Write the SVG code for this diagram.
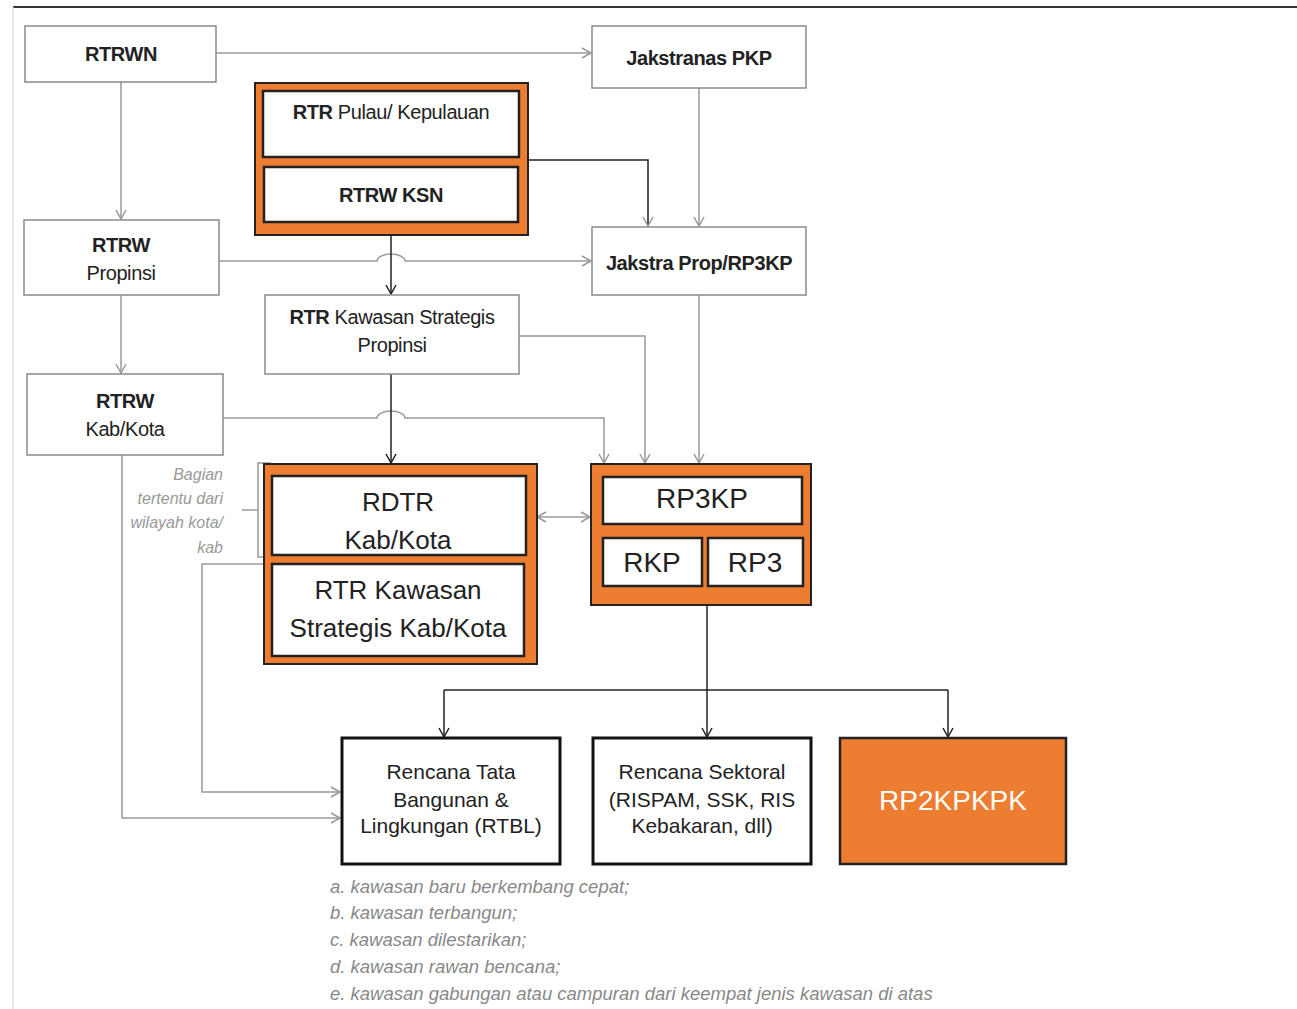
<svg xmlns="http://www.w3.org/2000/svg" width="1297" height="1009" viewBox="0 0 1297 1009">
<style>
text{font-family:"Liberation Sans",Arial,sans-serif;text-anchor:middle;fill:#222}
.box{fill:#fff;stroke:#8a8a8a;stroke-width:1.5}
.obox{fill:#ED7D31;stroke:#222;stroke-width:2}
.ibox{fill:#fff;stroke:#222;stroke-width:2.5}
.bbox{fill:#fff;stroke:#111;stroke-width:3}
.g{stroke:#999;fill:none;stroke-width:1.5}
.k{stroke:#222;fill:none;stroke-width:1.5}
.t1{font-size:20px;letter-spacing:-0.4px}
.b{font-weight:bold}
.t2{font-size:26px}
.t3{font-size:28px}
.t4{font-size:21px}
.it{font-style:italic;fill:#888}
.note{font-size:18.5px;text-anchor:start}
.side{font-size:16px;text-anchor:end;fill:#999}
</style>
<defs>
<marker id="ag" markerUnits="userSpaceOnUse" markerWidth="12" markerHeight="12" refX="10" refY="6" orient="auto-start-reverse"><path d="M1,1 L10,6 L1,11" fill="none" stroke="#999" stroke-width="1.5"/></marker>
<marker id="ak" markerUnits="userSpaceOnUse" markerWidth="12" markerHeight="12" refX="10" refY="6" orient="auto-start-reverse"><path d="M1,1 L10,6 L1,11" fill="none" stroke="#222" stroke-width="1.5"/></marker>
</defs>
<rect width="1297" height="1009" fill="#fff"/>
<line x1="13" y1="7" x2="1297" y2="7" stroke="#333" stroke-width="2"/>
<line x1="13" y1="7" x2="13" y2="1009" stroke="#ddd" stroke-width="1.5"/>

<g id="connectors">
<path class="g" d="M216,53 H591" marker-end="url(#ag)"/>
<path class="g" d="M121,82 V219" marker-end="url(#ag)"/>
<path class="k" d="M528,160 H648 V226" marker-end="url(#ag)"/>
<path class="g" d="M699,88 V226" marker-end="url(#ag)"/>
<path class="g" d="M219,261 H377 A14,7 0 0 1 405,261 H591" marker-end="url(#ag)"/>
<path class="k" d="M391,235 V294" marker-end="url(#ak)"/>
<path class="g" d="M121,295 V373" marker-end="url(#ag)"/>
<path class="g" d="M519,336 H645 V463" marker-end="url(#ag)"/>
<path class="g" d="M699,295 V463" marker-end="url(#ag)"/>
<path class="g" d="M223,418 H377 A14,7 0 0 1 405,418 H604 V463" marker-end="url(#ag)"/>
<path class="k" d="M391,374 V463" marker-end="url(#ak)"/>
<path class="g" d="M537,517 H590" marker-start="url(#ag)" marker-end="url(#ag)"/>
<path class="k" d="M707,605 V737"  marker-end="url(#ak)"/>
<path class="k" d="M444,690 H948"/>
<path class="k" d="M444,690 V737" marker-end="url(#ak)"/>
<path class="k" d="M948,690 V737" marker-end="url(#ak)"/>
<path class="g" d="M122,455 V818 H340" marker-end="url(#ag)"/>
<path class="g" d="M263,564 H202 V792 H340" marker-end="url(#ag)"/>
<path class="g" d="M271,463 H258 V557 H271 M258,510 H242"/>
</g>

<g id="rtrwn"><rect class="box" x="25" y="26" width="191" height="56"/><text class="t1 b" x="121" y="61">RTRWN</text></g>
<g id="jakstranas"><rect class="box" x="592" y="26" width="214" height="62"/><text class="t1 b" x="699" y="65">Jakstranas PKP</text></g>
<g id="rtr-pulau-group">
<rect class="obox" x="255" y="83" width="273" height="152"/>
<g id="rtr-pulau"><rect class="ibox" x="263" y="91" width="256" height="66"/><text class="t1" x="391" y="119"><tspan class="b">RTR</tspan> Pulau/ Kepulauan</text></g>
<g id="rtrw-ksn"><rect class="ibox" x="264" y="167" width="254" height="55"/><text class="t1 b" x="391" y="202">RTRW KSN</text></g>
</g>
<g id="rtrw-propinsi"><rect class="box" x="24" y="220" width="195" height="75"/><text class="t1 b" x="121" y="252">RTRW</text><text class="t1" x="121" y="280">Propinsi</text></g>
<g id="jakstra-prop"><rect class="box" x="592" y="227" width="214" height="68"/><text class="t1 b" x="699" y="270">Jakstra Prop/RP3KP</text></g>
<g id="rtr-ksp"><rect class="box" x="265" y="295" width="254" height="79"/><text class="t1" x="392" y="324"><tspan class="b">RTR</tspan> Kawasan Strategis</text><text class="t1" x="392" y="352">Propinsi</text></g>
<g id="rtrw-kab"><rect class="box" x="27" y="374" width="196" height="81"/><text class="t1 b" x="125" y="408">RTRW</text><text class="t1" x="125" y="436">Kab/Kota</text></g>
<g id="rdtr-group">
<rect class="obox" x="264" y="464" width="273" height="200"/>
<g id="rdtr"><rect class="ibox" x="272" y="476" width="254" height="79"/><text class="t2" x="398" y="511">RDTR</text><text class="t2" x="398" y="549">Kab/Kota</text></g>
<g id="rtr-kskab"><rect class="ibox" x="272" y="564" width="252" height="92"/><text class="t2" x="398" y="599">RTR Kawasan</text><text class="t2" x="398" y="637">Strategis Kab/Kota</text></g>
</g>
<g id="side-note">
<text class="it side" x="223" y="480">Bagian</text>
<text class="it side" x="223" y="504">tertentu dari</text>
<text class="it side" x="223" y="528">wilayah kota/</text>
<text class="it side" x="223" y="553">kab</text>
</g>
<g id="rp3kp-group">
<rect class="obox" x="591" y="464" width="220" height="141"/>
<g id="rp3kp"><rect class="ibox" x="603" y="477" width="199" height="47"/><text class="t3" x="702" y="508">RP3KP</text></g>
<g id="rkp"><rect class="ibox" x="603" y="538" width="99" height="48"/><text class="t3" x="652" y="572">RKP</text></g>
<g id="rp3"><rect class="ibox" x="708" y="538" width="95" height="48"/><text class="t3" x="755" y="572">RP3</text></g>
</g>
<g id="rtbl"><rect class="bbox" x="342" y="738" width="218" height="126"/><text class="t4" x="451" y="779">Rencana Tata</text><text class="t4" x="451" y="807">Bangunan &amp;</text><text class="t4" x="451" y="833">Lingkungan (RTBL)</text></g>
<g id="sektoral"><rect class="bbox" x="593" y="738" width="218" height="126"/><text class="t4" x="702" y="779">Rencana Sektoral</text><text class="t4" x="702" y="807">(RISPAM, SSK, RIS</text><text class="t4" x="702" y="833">Kebakaran, dll)</text></g>
<g id="rp2kpkpk"><rect x="840" y="738" width="226" height="126" fill="#ED7D31" stroke="#222" stroke-width="2.5"/><text class="t3" x="953" y="810" style="fill:#fff">RP2KPKPK</text></g>
<g id="notes">
<text class="it note" x="330" y="893">a. kawasan baru berkembang cepat;</text>
<text class="it note" x="330" y="919">b. kawasan terbangun;</text>
<text class="it note" x="330" y="946">c. kawasan dilestarikan;</text>
<text class="it note" x="330" y="973">d. kawasan rawan bencana;</text>
<text class="it note" x="330" y="1000">e. kawasan gabungan atau campuran dari keempat jenis kawasan di atas</text>
</g>
</svg>
